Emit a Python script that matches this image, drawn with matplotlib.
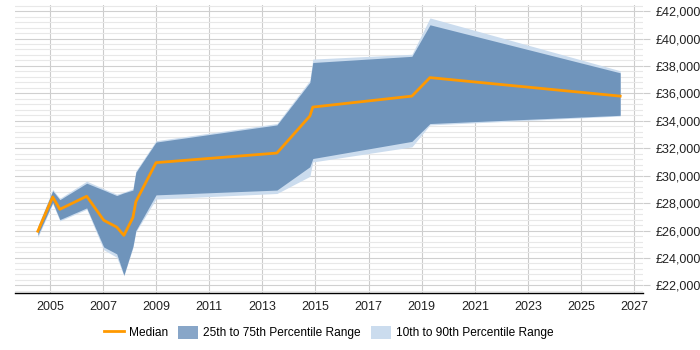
import matplotlib
matplotlib.use("Agg")
import matplotlib.pyplot as plt
from matplotlib.ticker import MultipleLocator, FuncFormatter
from matplotlib.patches import Patch
from matplotlib.lines import Line2D

plt.rcParams["font.family"] = ["Liberation Sans", "DejaVu Sans"]

# ── DATA ────────────────────────────────────────────────────────────────────
years = [2004.55, 2005.11, 2005.38, 2006.39, 2007.03, 2007.52, 2007.79, 2008.13,
         2008.24, 2009.0, 2013.55, 2014.79, 2014.9, 2018.63, 2019.31, 2026.47]
median = [25950, 28450, 27550, 28500, 26750, 26250, 25650, 26950,
          28100, 30950, 31650, 34350, 35000, 35800, 37150, 35800]
p25 = [25650, 28050, 26800, 27650, 24800, 24300, 22750, 24850,
       26000, 28600, 28950, 30650, 31250, 32500, 33800, 34400]
p75 = [26250, 28900, 28250, 29450, 28950, 28550, 28750, 28950,
       30250, 32450, 33700, 36800, 38250, 38700, 41000, 37500]
p10 = [25500, 27950, 26700, 27550, 24600, 24050, 22700, 24750,
       25900, 28300, 28700, 29950, 31000, 32100, 33700, 34350]
p90 = [26350, 29000, 28350, 29600, 29050, 28650, 28800, 29050,
       30350, 32550, 33800, 36950, 38500, 38850, 41500, 37650]
year_ticks = list(range(2005, 2028, 2))

C_MED = "#ff9900"
C_IQR = "#6f94bb"
C_DEC = "#cbdcee"

# ── PLOT ────────────────────────────────────────────────────────────────────
fig = plt.figure(figsize=(7, 3.5), dpi=100)
ax = fig.add_axes([0.021, 0.163, 0.898, 0.823])

ax.fill_between(years, p10, p90, color=C_DEC, lw=0, zorder=2)
ax.fill_between(years, p25, p75, color=C_IQR, lw=0, zorder=3)
ax.plot(years, median, color=C_MED, lw=2, zorder=4)

ax.set_xlim(2003.68, 2027.34)
ax.set_ylim(21450, 42450)

ax.set_xticks(year_ticks)
ax.set_xticklabels([str(y) for y in year_ticks])
ax.yaxis.set_major_locator(MultipleLocator(2000))
ax.yaxis.set_minor_locator(MultipleLocator(400))
ax.yaxis.set_major_formatter(FuncFormatter(lambda v, p: f"£{int(v):,}"))

ax.yaxis.tick_right()
ax.tick_params(axis="y", which="major", length=5, color="#cccccc",
               labelsize=9, labelcolor="#222222", pad=4)
ax.tick_params(axis="y", which="minor", length=0)
ax.tick_params(axis="x", length=0, labelsize=9, labelcolor="#222222", pad=6)

ax.grid(axis="x", which="major", color="#cccccc", lw=0.8, zorder=1)
ax.grid(axis="y", which="major", color="#d0d0d0", lw=0.8, zorder=1)
ax.grid(axis="y", which="minor", color="#e8e8e8", lw=0.8, zorder=1)
ax.set_axisbelow(True)

for s in ["top", "right", "left"]:
    ax.spines[s].set_visible(False)
ax.spines["bottom"].set_color("#000000")
ax.spines["bottom"].set_linewidth(1)

handles = [
    Line2D([0], [0], color=C_MED, lw=2),
    Patch(facecolor="#88a6c8", edgecolor="none"),
    Patch(facecolor=C_DEC, edgecolor="none"),
]
labels = ["Median", "25th to 75th Percentile Range", "10th to 90th Percentile Range"]
fig.legend(handles, labels, loc="center", bbox_to_anchor=(0.47, 0.049), ncol=3,
           frameon=False, fontsize=8.6, handlelength=1.67, columnspacing=0.84,
           handletextpad=0.42, handleheight=1.2)

plt.savefig("out.png", dpi=100)
